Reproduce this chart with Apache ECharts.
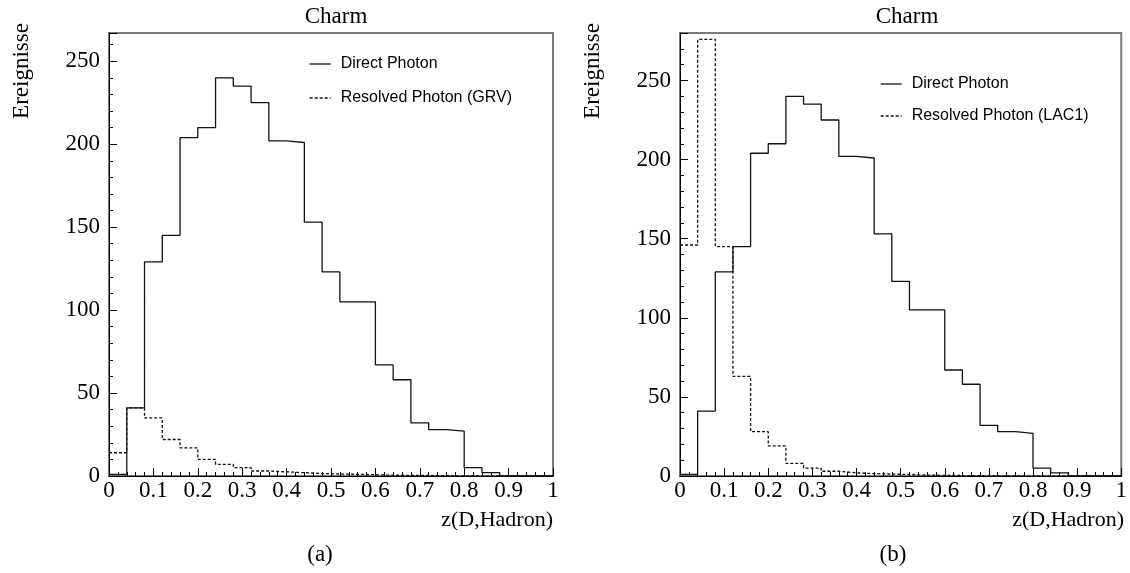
<!DOCTYPE html>
<html>
<head>
<meta charset="utf-8">
<script src="https://cdn.jsdelivr.net/npm/echarts@6/dist/echarts.min.js"></script>
<style>html,body{margin:0;padding:0;background:#fff}#c{width:1130px;height:573px}</style>
</head>
<body>
<div id="c"></div>
<script>
// bin lower edges (width 0.04) plus the final upper edge
var binEdges = [0, 0.04, 0.08, 0.12, 0.16, 0.20, 0.24, 0.28, 0.32, 0.36, 0.40, 0.44, 0.48, 0.52, 0.56, 0.60, 0.64, 0.68, 0.72, 0.76, 0.80, 0.84, 0.88, 0.92, 0.96, 1.00];
var directPhoton = [1, 41, 129, 145, 204, 210, 240, 235, 225, 202, 201, 153, 123, 105, 105, 67, 58, 32, 28, 27, 5, 2, 0, 0, 0];
var resolvedGRV = [14, 41, 35, 22, 17, 10, 7, 5, 3, 2.5, 2, 1.5, 1.2, 1, 0.8, 0.5, 0.4, 0.3, 0.2, 0, 0, 0, 0, 0, 0];
var resolvedLAC1 = [146, 276, 145, 63, 28, 19, 8, 5, 3, 2, 1.5, 1.2, 1, 0.6, 0.4, 0.3, 0.2, 0, 0, 0, 0, 0, 0, 0, 0];
var yTickLabels = [0, 50, 100, 150, 200, 250];
var xTickLabels = [0, 0.1, 0.2, 0.3, 0.4, 0.5, 0.6, 0.7, 0.8, 0.9, 1];

function hist(vals) {
  var d = [];
  for (var i = 0; i < vals.length; i++) d.push([binEdges[i], vals[i]]);
  d.push([binEdges[vals.length], vals[vals.length - 1]]);
  return d;
}

var serif = 'Liberation Serif';
var sans = 'Liberation Sans';
var grids = [
  {left: 109, top: 33, width: 444, height: 443, show: true, borderColor: '#7a7a7a', borderWidth: 2},
  {left: 680, top: 33, width: 444, height: 443, show: true, borderColor: '#7a7a7a', borderWidth: 2}
];
function xAx(gi) {
  return {
    type: 'value', gridIndex: gi, min: 0, max: 1, interval: 0.1,
    axisLine: {lineStyle: {color: '#000', width: 1}},
    axisTick: {inside: true, length: 8, lineStyle: {color: '#000'}},
    minorTick: {show: true, splitNumber: 5, length: 4, lineStyle: {color: '#000'}},
    splitLine: {show: false},
    axisLabel: {fontFamily: serif, fontSize: 23, color: '#000', margin: 3,
      formatter: function (v) { var r = Math.round(v * 10) / 10; return xTickLabels.indexOf(r) >= 0 ? String(r) : ''; }}
  };
}
function yAx(gi, max) {
  return {
    type: 'value', gridIndex: gi, min: 0, max: max, interval: 50,
    axisLine: {show: true, lineStyle: {color: '#000', width: 1}},
    axisTick: {show: true, inside: true, length: 8, lineStyle: {color: '#000'}},
    minorTick: {show: true, splitNumber: 5, length: 4, lineStyle: {color: '#000'}},
    splitLine: {show: false},
    axisLabel: {fontFamily: serif, fontSize: 23, color: '#000', margin: 9, showMaxLabel: false,
      formatter: function (v) { return yTickLabels.indexOf(v) >= 0 ? String(v) : ''; }}
  };
}
function series(name, vals, gi, dashed) {
  return {
    name: name, type: 'line', step: 'end', xAxisIndex: gi, yAxisIndex: gi,
    data: hist(vals), symbol: 'none', animation: false, silent: true,
    lineStyle: {color: '#111', width: 1.3, type: dashed ? [3, 2] : 'solid'},
    itemStyle: {color: '#111'}
  };
}
function legendOpt(left, top, gap, names) {
  return {orient: 'vertical', left: left, top: top, itemWidth: 21, itemHeight: 14, itemGap: gap,
    data: names, selectedMode: false,
    itemStyle: {opacity: 0, borderWidth: 0},
    lineStyle: {color: '#111', width: 1.3, opacity: 1},
    textStyle: {fontFamily: sans, fontSize: 16, color: '#000', padding: [0, 0, 0, 5]}};
}

var chart = echarts.init(document.getElementById('c'), null, {renderer: 'canvas'});
chart.setOption({
  animation: false,
  backgroundColor: '#fff',
  grid: grids,
  title: [
    {text: 'Charm', left: 331, top: 0, textAlign: 'center', textStyle: {fontFamily: serif, fontSize: 23, fontWeight: 'normal', color: '#000'}},
    {text: 'Charm', left: 902, top: 0, textAlign: 'center', textStyle: {fontFamily: serif, fontSize: 23, fontWeight: 'normal', color: '#000'}}
  ],
  xAxis: [xAx(0), xAx(1)],
  yAxis: [yAx(0, 267), yAx(1, 280)],
  legend: [
    legendOpt(304, 51, 18, ['Direct Photon', 'Resolved Photon (GRV)']),
    legendOpt(875, 71, 16, ['Direct Photon', 'Resolved Photon (LAC1)'])
  ],
  series: [
    series('Direct Photon', directPhoton, 0, false),
    series('Resolved Photon (GRV)', resolvedGRV, 0, true),
    series('Direct Photon', directPhoton, 1, false),
    series('Resolved Photon (LAC1)', resolvedLAC1, 1, true)
  ],
  graphic: [
    {type: 'text', x: 22, y: 71, rotation: Math.PI / 2, style: {text: 'Ereignisse', fontFamily: serif, fontSize: 23, fill: '#000', align: 'center', verticalAlign: 'middle'}},
    {type: 'text', x: 593, y: 71, rotation: Math.PI / 2, style: {text: 'Ereignisse', fontFamily: serif, fontSize: 23, fill: '#000', align: 'center', verticalAlign: 'middle'}},
    {type: 'text', x: 553, y: 520, style: {text: 'z(D,Hadron)', fontFamily: serif, fontSize: 22, fill: '#000', align: 'right', verticalAlign: 'middle'}},
    {type: 'text', x: 1124, y: 520, style: {text: 'z(D,Hadron)', fontFamily: serif, fontSize: 22, fill: '#000', align: 'right', verticalAlign: 'middle'}},
    {type: 'text', x: 320, y: 555, style: {text: '(a)', fontFamily: serif, fontSize: 23, fill: '#000', align: 'center', verticalAlign: 'middle'}},
    {type: 'text', x: 893, y: 555, style: {text: '(b)', fontFamily: serif, fontSize: 23, fill: '#000', align: 'center', verticalAlign: 'middle'}}
  ]
});
</script>
</body>
</html>
